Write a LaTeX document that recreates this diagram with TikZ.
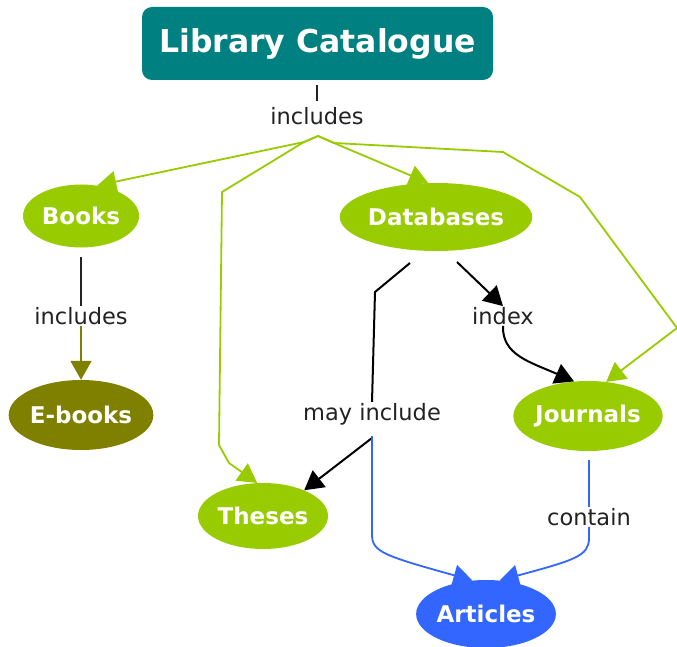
\documentclass[tikz,border=0pt]{standalone}
\usepackage{fontspec}
\setmainfont{DejaVu Sans}
\usetikzlibrary{arrows.meta,shapes.geometric}
\definecolor{teal}{HTML}{008080}
\definecolor{lgreen}{HTML}{99CC00}
\definecolor{olive}{HTML}{808000}
\definecolor{cblue}{HTML}{3366FF}
\definecolor{ltxt}{HTML}{222222}
\begin{document}
\begin{tikzpicture}[x=1pt,y=-1pt,
  concept/.style={ellipse,inner sep=0pt,text=white,font=\fontsize{23}{26}\selectfont\bfseries},
  lbl/.style={inner sep=1pt,text=ltxt,font=\fontsize{22.5}{26}\selectfont},
  tip/.style={-{Triangle[length=19pt,width=21pt]}},
  gline/.style={draw=lgreen,line width=1.8pt,line join=round},
  bline/.style={draw=black,line width=2pt,line join=round},
  uline/.style={draw=cblue,line width=1.8pt,line join=round},
  oline/.style={draw=olive,line width=1.8pt}]
\useasboundingbox (0,0) rectangle (677,647);
\node[rectangle,rounded corners=10pt,fill=teal,minimum width=351pt,minimum height=73pt,inner sep=0pt,text=white,font=\fontsize{31.5}{34}\selectfont\bfseries] (lc) at (317.5,43.5) {Library Catalogue};
\node[lbl] (inc1) at (317,116) {includes};
\node[concept,fill=lgreen,minimum width=116pt,minimum height=63pt] (books) at (81,216) {Books};
\node[lbl] (inc2) at (81,316) {includes};
\node[concept,fill=olive,minimum width=144pt,minimum height=70pt] (ebooks) at (81,415) {E-books};
\node[concept,fill=lgreen,minimum width=173pt,minimum height=68pt] (dbs) at (436,217) {Databases};
\node[lbl] (index) at (503,316) {index};
\node[lbl] (may) at (372,414) {may include};
\node[concept,fill=lgreen,minimum width=149pt,minimum height=70pt] (jour) at (588,416) {Journals};
\node[concept,fill=lgreen,minimum width=130pt,minimum height=66pt] (theses) at (263,516) {Theses};
\node[lbl] (contain) at (589,517) {contain};
\node[concept,fill=cblue,minimum width=138pt,minimum height=68pt] (art) at (486,614) {Articles};
% catalogue -> includes
\draw[line width=2pt,draw=ltxt] (317,85) -- (317,101);
\coordinate (apex) at (318,136);
\coordinate (ap1) at (304,142);
\coordinate (ap2) at (334,143);
% green fan
\draw[gline,tip] (apex) -- (ap1) -- (books.62);
\draw[gline,tip] (apex) -- (ap1) -- (222,192) -- (219,445) -- (229,463) -- (theses.100);
\draw[gline,tip] (apex) -- (ap2) -- (dbs.103);
\draw[gline,tip] (apex) -- (ap2) -- (503,152) -- (580,197) -- (677,328) -- (jour.62);
% books -> ebooks
\draw[line width=2pt,draw=ltxt] (81,257) -- (inc2.north);
\draw[oline,tip] (inc2.south) -- (ebooks.north);
% databases -> index -> journals
\draw[bline,tip] (457,262) -- (index.north);
\draw[bline,tip] (index.south) .. controls (502,355) and (530,362) .. (jour.112);
% databases -> may include
\draw[bline] (410,263) -- (375,292) -- (may.north);
\draw[bline,tip] (372,438) -- (theses.32);
\draw[uline,tip] (372,436) -- (372,535) .. controls (372,552) and (385,556) .. (art.112);
% journals -> contain -> articles
\draw[uline] (589,460) -- (contain.north);
\draw[uline,tip] (contain.south) -- (589,538) .. controls (589,556) and (575,560) .. (art.68);
\end{tikzpicture}
\end{document}
